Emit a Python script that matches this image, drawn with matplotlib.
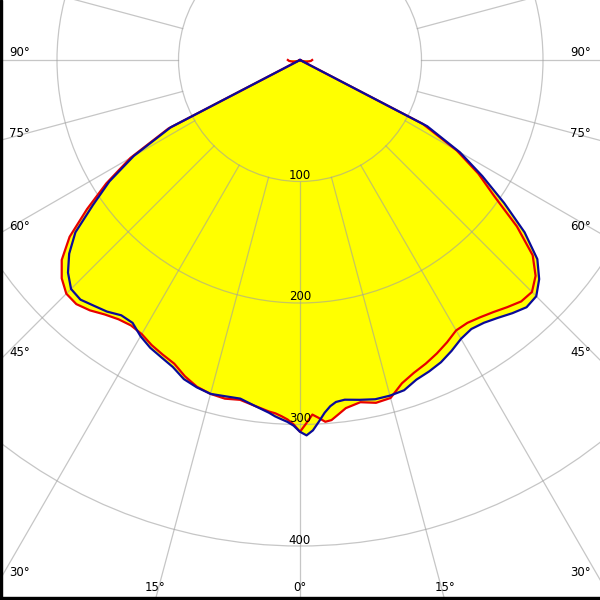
import numpy as np
import matplotlib
matplotlib.use("Agg")
import matplotlib.pyplot as plt
from matplotlib.patches import Circle, Rectangle

# angles from nadir (degrees, negative = left half)
angles = [-90, -85, -80, -75, -70, -67.5, -65, -62.5, -60, -57.5, -55, -52.5, -50,
          -47.5, -45, -42.5, -40, -37.5, -35, -32.5, -30, -27.5, -25, -22.5, -20,
          -17.5, -15, -12.5, -10, -7.5, -5, -4, -3, -2, -1, 0, 1, 2, 3, 4, 5, 6,
          7.5, 10, 12.5, 15, 17.5, 20, 22.5, 25, 27.5, 30, 32.5, 35, 37.5, 40,
          42.5, 45, 47.5, 50, 52.5, 55, 57.5, 60, 62.5, 65, 67.5, 70, 75, 80, 85, 90]

# luminous intensity, plane C0-C180 (red)
red_vals = [10, 9, 7, 5, 3, 2, 0, 122, 161, 189, 214, 239, 256,
            266, 272, 272.5, 269, 264, 260.5, 259, 260.5, 264.5, 267.5, 270.5, 277,
            282, 284.5, 285.5, 284, 287, 290.5, 291.5, 293.5, 296, 300, 306, 299, 292, 295, 298.5, 297.5, 294,
            289, 286, 289, 288, 279, 274, 270.5, 266.5, 262, 257, 256.5, 258.5, 261.5, 265.5,
            269.5, 270, 263, 250, 225, 195, 174, 149, 114, 0, 2, 3, 5, 7, 9, 10]

# luminous intensity, plane C90-C270 (blue)
blue_vals = [0, 0, 0, 0, 0, 0, 0, 120, 158, 186, 208, 233, 248,
             259, 266.5, 267.5, 264, 261, 256.5, 256.5, 262.5, 267, 270, 273.5, 279.5,
             282.5, 284.5, 283.5, 283, 287, 291.5, 294, 296, 298, 301, 306, 309, 305, 298, 291, 286, 283,
             282, 284, 286, 286, 285, 280, 277.5, 274.5, 270, 265, 262.5, 264, 267.5, 272,
             276, 275, 267, 255, 233, 205, 178, 152, 118, 0, 0, 0, 0, 0, 0, 0]

rings = [100, 200, 300, 400]
spoke_step = 15
angle_labels = [0, 15, 30, 45, 60, 75, 90]

s = 1.215  # pixels per candela unit
fig = plt.figure(figsize=(6, 6), dpi=100)
ax = fig.add_axes([0, 0, 1, 1])
ax.set_xlim(-300 / s, 300 / s)
ax.set_ylim(-540 / s, 60 / s)
ax.set_aspect('equal')
ax.axis('off')

th = np.radians(angles)
xr = np.array(red_vals) * np.sin(th)
yr = -np.array(red_vals) * np.cos(th)
xb = np.array(blue_vals) * np.sin(th)
yb = -np.array(blue_vals) * np.cos(th)

# yellow fill (union of both planes)
ax.fill(xr, yr, color='#ffff00', lw=0, zorder=1)
ax.fill(xb, yb, color='#ffff00', lw=0, zorder=1)

# grid
gc = '#a0a0a0'
for r in rings:
    ax.add_patch(Circle((0, 0), r, fill=False, ec=gc, lw=0.9, alpha=0.6, zorder=2))
r0, r1 = rings[0], 800
for a in range(0, 360, spoke_step):
    t = np.radians(a)
    ax.plot([r0 * np.sin(t), r1 * np.sin(t)], [-r0 * np.cos(t), -r1 * np.cos(t)],
            color=gc, lw=0.9, alpha=0.6, zorder=2)

# curves
ax.plot(xr, yr, color='#e80000', lw=1.6, zorder=3)
ax.plot(xb, yb, color='#0a0a9a', lw=1.6, zorder=4)

# ring labels
for r in rings:
    ax.text(0, -r + 6 / s, str(r), ha='center', va='center', fontsize=8.5, zorder=5)

# angle labels at the border
xmax = 300 / s
ybot = -540 / s
for a in angle_labels:
    t = np.radians(a)
    if a == 0:
        ax.text(0, ybot + 12 / s, '0°', ha='center', va='center', fontsize=8.5)
        continue
    # intersection of the spoke with the image border
    d_side = xmax / np.sin(t)
    d_bot = -ybot / np.cos(t) if np.cos(t) > 1e-9 else 1e9
    if d_bot < d_side:
        xe = d_bot * np.sin(t)
        for sx in (-1, 1):
            ax.text(sx * xe, ybot + 12 / s, f'{a}°', ha='center', va='center', fontsize=8.5)
    else:
        ye = -d_side * np.cos(t)
        ax.text(-xmax + 9 / s, ye + 7 / s, f'{a}°', ha='left', va='center', fontsize=8.5)
        ax.text(xmax - 9 / s, ye + 7 / s, f'{a}°', ha='right', va='center', fontsize=8.5)

# black frame on left and bottom
fig.patches.append(Rectangle((0, 0), 2 / 600, 1, transform=fig.transFigure, color='black'))
fig.patches.append(Rectangle((0, 0), 1, 3 / 600, transform=fig.transFigure, color='black'))

fig.savefig('out.png', dpi=100)
